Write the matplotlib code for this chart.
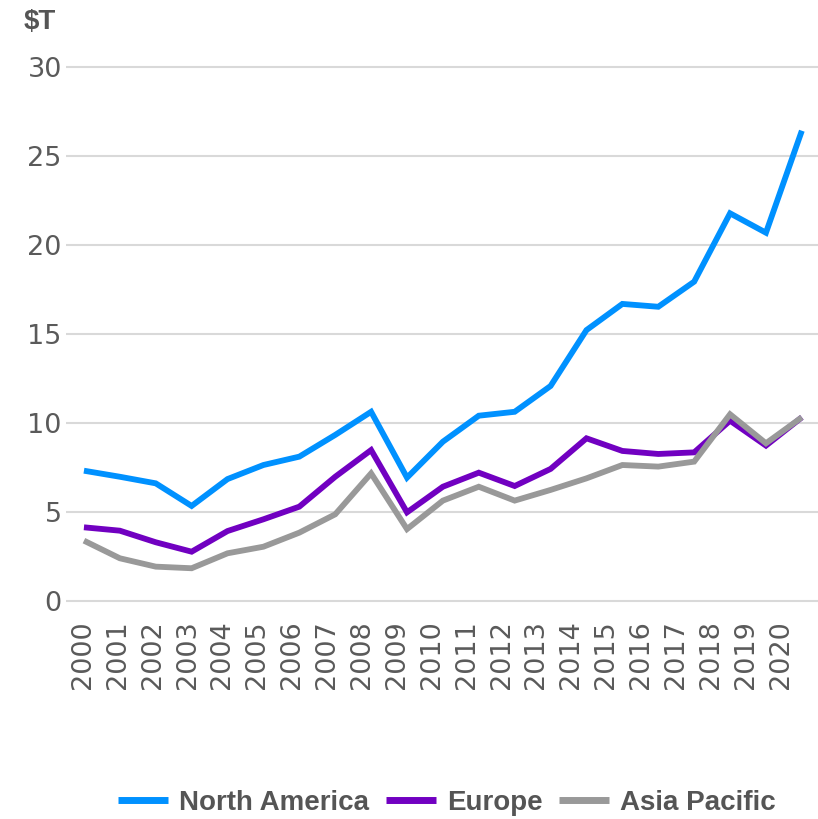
import numpy as np
import matplotlib
matplotlib.use("Agg")
import matplotlib.pyplot as plt

years = list(range(2000, 2021))
north_america = [7.32, 6.98, 6.61, 5.34, 6.85, 7.64, 8.11, 9.33, 10.63, 6.93, 8.95,
                 10.41, 10.63, 12.08, 15.22, 16.69, 16.53, 17.94, 21.78, 20.69, 26.42]
europe = [4.14, 3.95, 3.30, 2.77, 3.93, 4.59, 5.30, 6.98, 8.48, 4.98, 6.42,
          7.21, 6.46, 7.42, 9.14, 8.43, 8.26, 8.35, 10.13, 8.73, 10.32]
asia_pacific = [3.39, 2.40, 1.93, 1.84, 2.68, 3.05, 3.84, 4.87, 7.17, 4.04, 5.64,
                6.42, 5.64, 6.24, 6.89, 7.64, 7.55, 7.83, 10.49, 8.86, 10.32]
y_ticks = [0, 5, 10, 15, 20, 25, 30]

series = [
    ("North America", north_america, "#0091ff"),
    ("Europe", europe, "#7100c1"),
    ("Asia Pacific", asia_pacific, "#999999"),
]

W, H = 818, 819
fig = plt.figure(figsize=(W / 100, H / 100), dpi=100)

# axes placed in pixel terms: y=0 at 601px, y=30 at 67px
pad = 0.15
px_per_unit = (601 - 67) / 30
bottom = (H - 601 - pad * px_per_unit) / H
height = (534 + 2 * pad * px_per_unit) / H
ax = fig.add_axes([66 / W, bottom, 1 - 66 / W, height])

x = np.arange(len(years))
for name, vals, color in series:
    ax.plot(x, vals, color=color, lw=4.2, label=name, solid_joinstyle="miter",
            solid_capstyle="butt")

ax.set_ylim(-pad, 30 + pad)
ax.set_xlim(-0.5, len(years) - 1 + 0.45)
ax.set_yticks(y_ticks)
ax.set_yticklabels([str(v) for v in y_ticks])
ax.yaxis.grid(True, color="#d9d9d9", lw=1.5)
ax.set_axisbelow(True)

# labels in the original drift slightly left of the data points
label_step = 0.972
ax.set_xticks(-0.03 + np.arange(len(years)) * label_step)
ax.set_xticklabels([str(y) for y in years], rotation=90, va="top", ha="center")

for s in ax.spines.values():
    s.set_visible(False)
ax.tick_params(axis="both", length=0, labelsize=19.5, labelcolor="#5a5a5a")
ax.tick_params(axis="y", pad=3)
ax.tick_params(axis="x", pad=12)
for lbl in ax.get_xticklabels() + ax.get_yticklabels():
    lbl.set_family("DejaVu Sans")

fig.text(24 / W, 1 - 22 / H, "$T", fontsize=20, fontweight="heavy", color="#555555",
         va="center", ha="left", family="Liberation Sans")

leg = fig.legend(loc="center", bbox_to_anchor=(0.5465, 1 - 803 / H), ncol=3, frameon=False,
                 handlelength=1.8, handletextpad=0.4, columnspacing=0.6,
                 borderpad=0.2,
                 prop={"family": "Liberation Sans", "weight": "bold", "size": 20})
for t in leg.get_texts():
    t.set_color("#555555")
for h in leg.legend_handles:
    h.set_linewidth(5)

fig.savefig("out.png", dpi=100)
